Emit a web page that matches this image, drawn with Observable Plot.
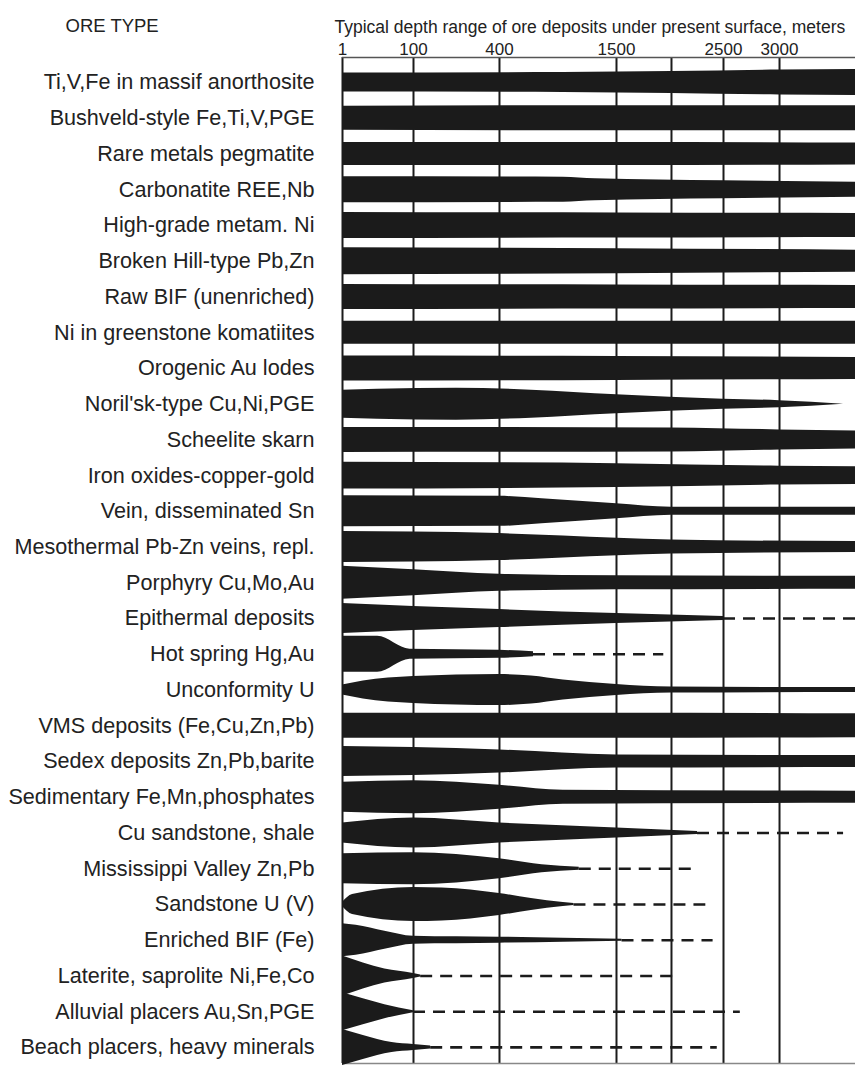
<!DOCTYPE html>
<html>
<head>
<meta charset="utf-8">
<script src="https://cdn.jsdelivr.net/npm/d3@7"></script>
<script src="https://cdn.jsdelivr.net/npm/@observablehq/plot@0.6"></script>
<style>
  html, body { margin: 0; padding: 0; background: #fff; }
  #chart { width: 855px; height: 1067px; }
</style>
</head>
<body>
<div id="chart"></div>
<script>
// Ore deposit types, top to bottom
const oreTypes = [
  "Ti,V,Fe in massif anorthosite",
  "Bushveld-style Fe,Ti,V,PGE",
  "Rare metals pegmatite",
  "Carbonatite REE,Nb",
  "High-grade metam. Ni",
  "Broken Hill-type Pb,Zn",
  "Raw BIF (unenriched)",
  "Ni in greenstone komatiites",
  "Orogenic Au lodes",
  "Noril'sk-type Cu,Ni,PGE",
  "Scheelite skarn",
  "Iron oxides-copper-gold",
  "Vein, disseminated Sn",
  "Mesothermal Pb-Zn veins, repl.",
  "Porphyry Cu,Mo,Au",
  "Epithermal deposits",
  "Hot spring Hg,Au",
  "Unconformity U",
  "VMS deposits (Fe,Cu,Zn,Pb)",
  "Sedex deposits Zn,Pb,barite",
  "Sedimentary Fe,Mn,phosphates",
  "Cu sandstone, shale",
  "Mississippi Valley Zn,Pb",
  "Sandstone U (V)",
  "Enriched BIF (Fe)",
  "Laterite, saprolite Ni,Fe,Co",
  "Alluvial placers Au,Sn,PGE",
  "Beach placers, heavy minerals"
];

// Depth (m) labelled on the top axis, and depths that get a vertical grid line
const depthTicks = [1, 100, 400, 1500, 2500, 3000];
const gridDepths = [1, 100, 400, 1500, 2000, 2500, 3000];

// Breaks of the stretched depth axis (m) and their share of the plot width
const depthBreaks = [1, 100, 400, 1500, 2000, 2500, 3000, 3700];
const breakShares = [0, 0.1384, 0.3060, 0.5341, 0.6413, 0.7427, 0.8519, 1];

// Frequency profile of each ore type: [depth m, relative abundance (band thickness)]
const profiles = [
  [[1, 19], [1000, 20], [2000, 22], [3000, 25], [3700, 26]],
  [[1, 24], [1500, 25], [3700, 25]],
  [[1, 23], [1500, 23], [3700, 22]],
  [[1, 26], [1000, 25], [1300, 22], [2500, 18], [3700, 15]],
  [[1, 26], [1500, 25], [3700, 24]],
  [[1, 27], [1500, 25], [3700, 22]],
  [[1, 25], [1500, 24], [3700, 23]],
  [[1, 23], [1500, 23], [3700, 23]],
  [[1, 25], [1500, 24], [3700, 22]],
  [[1, 28], [50, 30], [250, 32], [700, 28], [1500, 19], [2500, 10], [3000, 7], [3590, 0]],
  [[1, 25], [2000, 24], [3000, 20], [3700, 18]],
  [[1, 27], [1500, 24], [3000, 19], [3700, 18]],
  [[1, 31], [400, 30], [800, 25], [1500, 15], [2000, 8], [3700, 8]],
  [[1, 31], [100, 30], [400, 27], [1000, 22], [2000, 14], [3700, 11]],
  [[1, 33], [100, 26], [400, 17], [1500, 14], [3700, 13]],
  [[1, 30], [100, 24], [400, 18], [1500, 10], [2500, 4]],
  [[1, 36], [50, 36], [95, 10], [400, 8], [720, 5]],
  [[1, 10], [30, 18], [100, 27], [400, 31], [700, 28], [1000, 20], [1500, 11], [2000, 6], [3700, 5]],
  [[1, 25], [1500, 25], [3700, 24]],
  [[1, 30], [100, 28], [400, 23], [1500, 13], [3700, 12]],
  [[1, 30], [100, 33], [400, 24], [1000, 14], [3700, 12]],
  [[1, 20], [100, 30], [400, 20], [1500, 10], [2250, 3]],
  [[1, 30], [100, 32], [400, 20], [800, 8], [1150, 3]],
  [[1, 4], [15, 20], [100, 34], [200, 33], [400, 22], [700, 12], [1000, 4], [1100, 2]],
  [[1, 33], [20, 30], [60, 18], [100, 8], [400, 6], [1000, 4], [1550, 2]],
  [[1, 40], [30, 26], [60, 14], [100, 5], [125, 2]],
  [[1, 38], [30, 26], [60, 14], [100, 2]],
  [[1, 36], [30, 24], [70, 10], [100, 6], [160, 3]]
];

// Depth (m) to which a possible but uncommon occurrence is dashed on; null = none
const dashedTo = [
  null, null, null, null, null, null, null, null, null, null,
  null, null, null, null, null, 3700, 1930, null, null, null,
  null, 3590, 2250, 2330, 2400, 2040, 2650, 2440
];

const W = 855, H = 1067;
const mL = 342, mR = 0, mT = 57, mB = 4;
const rowStep = 35.74;               // pixels between band centres
const yTop = -0.7, yBottom = 27.45;  // row-index extent of the frame
const ink = "#1b1b1b";

const bands = oreTypes.flatMap((name, row) =>
  profiles[row].map(([depth, thickness]) => ({name, row, depth, thickness}))
);
const dashes = oreTypes
  .map((name, row) => ({name, row, from: profiles[row][profiles[row].length - 1][0], to: dashedTo[row]}))
  .filter(d => d.to != null);

const half = d => d.thickness / 2 / rowStep;

const chart = Plot.plot({
  width: W,
  height: H,
  marginLeft: mL,
  marginRight: mR,
  marginTop: mT,
  marginBottom: mB,
  style: {fontFamily: "Arial, 'Liberation Sans', Helvetica, sans-serif", color: "#222", background: "#fff"},
  x: {
    type: "linear",
    domain: depthBreaks,
    range: breakShares.map(s => mL + s * (W - mL - mR))
  },
  y: {type: "linear", domain: [yTop, yBottom], reverse: true},
  marks: [
    // vertical depth grid
    Plot.ruleX(gridDepths, {stroke: ink, strokeWidth: 2}),
    // top and bottom edges of the frame
    Plot.ruleY([yTop], {stroke: "#555", strokeWidth: 1.5}),
    Plot.ruleY([yBottom], {stroke: "#888", strokeWidth: 1.5}),
    // dashed tails: rare deeper occurrences
    Plot.ruleY(dashes, {y: "row", x1: "from", x2: "to", stroke: ink, strokeWidth: 2.6, strokeDasharray: "12,8"}),
    // abundance bands
    Plot.areaY(bands, {
      x: "depth",
      y1: d => d.row - half(d),
      y2: d => d.row + half(d),
      z: "name",
      fill: ink,
      curve: "monotone-x"
    }),
    Plot.axisX(depthTicks, {
      anchor: "top", tickSize: 0, tickPadding: 3, fontSize: 17,
      tickFormat: d => String(d), label: null
    }),
    Plot.axisY(d3.range(oreTypes.length), {
      anchor: "left", tickSize: 0, tickPadding: 28, fontSize: 21.6,
      tickFormat: i => oreTypes[i], label: null
    }),
    Plot.text(["ORE TYPE"], {frameAnchor: "top-left", dx: -277, dy: -39, textAnchor: "start", fontSize: 18.5, fill: "#222"}),
    Plot.text(["Typical depth range of ore deposits under present surface, meters"], {
      frameAnchor: "top-left", dx: -8, dy: -37, textAnchor: "start", fontSize: 17.5, fill: "#222"
    })
  ]
});

document.getElementById("chart").appendChild(chart);
</script>
</body>
</html>
